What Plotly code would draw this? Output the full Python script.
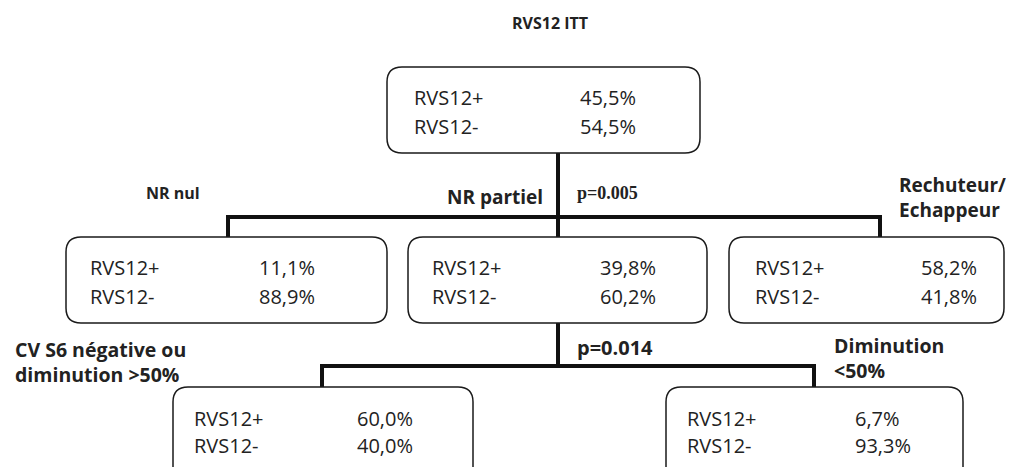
import plotly.graph_objects as go

# ---- data ----
title_text = "RVS12 ITT"
row_labels = ["RVS12+", "RVS12-"]
node_names = ["ITT", "NR nul", "NR partiel", "Rechuteur", "CV S6 neg", "Diminution <50"]
pct_plus = ["45,5%", "11,1%", "39,8%", "58,2%", "60,0%", "6,7%"]
pct_minus = ["54,5%", "88,9%", "60,2%", "41,8%", "40,0%", "93,3%"]
branch_labels = ["NR nul", "NR partiel", "Rechuteur/<br>Echappeur",
                 "CV S6 négative ou<br>diminution >50%", "Diminution<br><50%"]
p_values = ["p=0.005", "p=0.014"]

# ---- layout (page pixel coordinates) ----
boxes = [  # x0, x1, y0, y1, label x, value x
    (387, 700, 67, 153, 412, 578),
    (66, 387, 237, 323, 88, 257),
    (408, 707, 237, 323, 430, 598),
    (729, 1004, 237, 323, 753, 919),
    (173, 473, 387, 485, 192, 355),
    (666, 963, 387, 485, 685, 853),
]
row_y = [(97, 126), (267, 296), (267, 296), (267, 296), (418, 445), (418, 445)]

OFF = 8  # default page body margin
fig = go.Figure()
fig.add_trace(go.Scatter(x=[OFF, 1014 + OFF], y=[OFF, 467 + OFF], mode="markers",
                         marker=dict(opacity=0), hoverinfo="skip", showlegend=False))

def rrect(x0, x1, y0, y1, r=15):
    return (f"M {x0+r},{y0} L {x1-r},{y0} Q {x1},{y0} {x1},{y0+r} "
            f"L {x1},{y1-r} Q {x1},{y1} {x1-r},{y1} L {x0+r},{y1} "
            f"Q {x0},{y1} {x0},{y1-r} L {x0},{y0+r} Q {x0},{y0} {x0+r},{y0} Z")

shapes = []
for (x0, x1, y0, y1, lx, vx) in boxes:
    shapes.append(dict(type="path", path=rrect(x0, x1, y0, y1), xref="x", yref="y",
                       line=dict(color="#1a1a1a", width=1.5), fillcolor="white", layer="above"))

lw = 4
def seg(x0, y0, x1, y1):
    shapes.append(dict(type="line", x0=x0, y0=y0, x1=x1, y1=y1, xref="x", yref="y",
                       line=dict(color="#111111", width=lw), layer="below"))

# connectors level 1
seg(558, 153, 558, 217)
seg(228, 217, 880, 217)
seg(228, 215, 228, 237)
seg(880, 215, 880, 237)
seg(558, 217, 558, 237)
# connectors level 2
seg(558, 323, 558, 366)
seg(322, 366, 814, 366)
seg(322, 364, 322, 387)
seg(814, 364, 814, 387)

ann = []
font_main = "Open Sans"
for i, (x0, x1, y0, y1, lx, vx) in enumerate(boxes):
    for j, (lab, val) in enumerate(zip(row_labels, [pct_plus[i], pct_minus[i]])):
        y = row_y[i][j]
        ann.append(dict(x=lx, y=y, text=lab, xanchor="left", yanchor="middle",
                        font=dict(family=font_main, size=20, color="#222")))
        ann.append(dict(x=vx, y=y, text=val, xanchor="left", yanchor="middle",
                        font=dict(family=font_main, size=20, color="#222")))

ann.append(dict(x=550, y=23, text=f"<b>{title_text}</b>", xanchor="center", yanchor="middle",
                font=dict(family=font_main, size=16, color="#222")))
ann.append(dict(x=173, y=193, text=f"<b>{branch_labels[0]}</b>", xanchor="center", yanchor="middle",
                font=dict(family=font_main, size=16, color="#222")))
ann.append(dict(x=545, y=197, text=f"<b>{branch_labels[1]}</b>", xanchor="right", yanchor="middle",
                font=dict(family=font_main, size=19, color="#222")))
ann.append(dict(x=575, y=193, text=f"<b>{p_values[0]}</b>", xanchor="left", yanchor="middle",
                font=dict(family="Liberation Serif", size=18, color="#222")))
ann.append(dict(x=897, y=197, text=f"<b>{branch_labels[2]}</b>", xanchor="left", yanchor="middle",
                align="left", font=dict(family=font_main, size=19, color="#222")))
ann.append(dict(x=13, y=362, text=f"<b>{branch_labels[3]}</b>", xanchor="left", yanchor="middle",
                align="left", font=dict(family=font_main, size=19.5, color="#222")))
ann.append(dict(x=575, y=347, text=f"<b>{p_values[1]}</b>", xanchor="left", yanchor="middle",
                font=dict(family=font_main, size=20, color="#222")))
ann.append(dict(x=832, y=358, text=f"<b>{branch_labels[4]}</b>", xanchor="left", yanchor="middle",
                align="left", font=dict(family=font_main, size=19.5, color="#222")))
for a in ann:
    a.update(xref="x", yref="y", showarrow=False)

fig.update_layout(
    width=1014, height=467, margin=dict(l=0, r=0, t=0, b=0),
    paper_bgcolor="white", plot_bgcolor="white",
    xaxis=dict(range=[OFF, 1014 + OFF], visible=False, fixedrange=True),
    yaxis=dict(range=[467 + OFF, OFF], visible=False, fixedrange=True),
    shapes=shapes, annotations=ann, showlegend=False,
)
fig.write_html("out.html")
